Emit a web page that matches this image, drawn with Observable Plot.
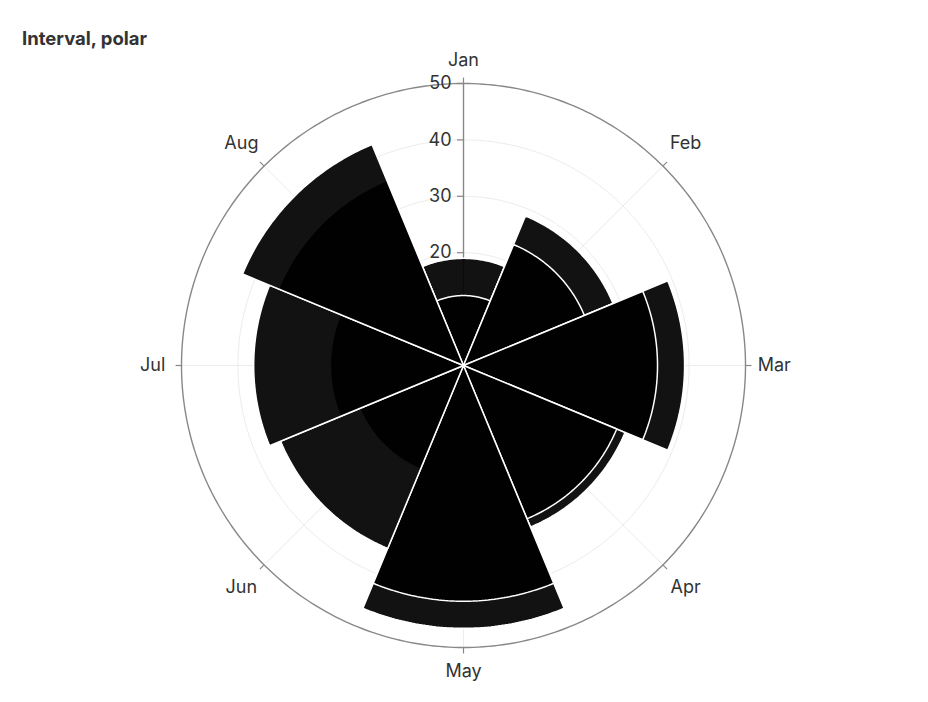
<!DOCTYPE html>
<html>
<head>
<meta charset="utf-8">
<script src="https://cdn.jsdelivr.net/npm/d3@7"></script>
<script src="https://cdn.jsdelivr.net/npm/@observablehq/plot@0.6"></script>
<style>
  body { margin: 0; background: #fff; font-family: Inter, "Liberation Sans", sans-serif; }
  #wrap { position: relative; width: 928px; height: 702px; }
  #title { position: absolute; left: 22px; top: 27px; font-size: 18.5px; font-weight: 700; color: #333; }
  #chart { position: absolute; left: 0; top: 0; }
</style>
</head>
<body>
<div id="wrap">
  <div id="chart"></div>
  <div id="title">Interval, polar</div>
</div>
<script>
// ---- data ----
const months = ["Jan", "Feb", "Mar", "Apr", "May", "Jun", "Jul", "Aug"];
const seriesA = [19.0, 28.7, 39.2, 31.0, 46.6, 19.9, 23.6, 35.5]; // drawn first
const seriesB = [12.4, 23.2, 34.4, 29.4, 41.8, 35.1, 37.2, 42.4]; // drawn on top
const radialTicks = [20, 30, 40, 50];
const rMax = 50;

// ---- polar helpers ----
const step = 360 / months.length;
const rad = (deg) => (deg * Math.PI) / 180;
const px = (r, deg) => r * Math.sin(rad(deg));
const py = (r, deg) => r * Math.cos(rad(deg));
const N = 60;

function wedges(values, series) {
  const pts = [];
  values.forEach((v, i) => {
    const a0 = i * step - step / 2, a1 = i * step + step / 2;
    const key = series + i;
    pts.push({ key, x: 0, y: 0 });
    for (let k = 0; k <= N; k++) {
      const a = a0 + ((a1 - a0) * k) / N;
      pts.push({ key, x: px(v, a), y: py(v, a) });
    }
    pts.push({ key, x: 0, y: 0 });
  });
  return pts;
}

function circles(values) {
  const pts = [];
  values.forEach((v) => {
    for (let k = 0; k <= 360; k++) pts.push({ key: v, x: px(v, k), y: py(v, k) });
  });
  return pts;
}

const gridCircles = circles(radialTicks.filter((t) => t < rMax));
const outerCircle = circles([rMax]);
// label offset: top/bottom, sides, diagonals
const labelR = (i) => (i % 4 === 0 ? 54.2 : i % 2 === 0 ? 55.1 : 55.7);

const chart = Plot.plot({
  width: 928,
  height: 702,
  marginLeft: 181,
  marginRight: 183,
  marginTop: 83,
  marginBottom: 55,
  x: { domain: [-rMax, rMax], axis: null },
  y: { domain: [-rMax, rMax], axis: null },
  style: { fontFamily: "Inter, 'Liberation Sans', sans-serif", fontSize: "18px", background: "white", overflow: "visible" },
  marks: [
    Plot.line(gridCircles, { x: "x", y: "y", z: "key", stroke: "#ececec", strokeWidth: 1 }),
    Plot.link(months, {
      x1: 0, y1: 0,
      x2: (d, i) => px(rMax, i * step), y2: (d, i) => py(rMax, i * step),
      stroke: "#ececec", strokeWidth: 1
    }),
    Plot.line(outerCircle, { x: "x", y: "y", z: "key", stroke: "#888", strokeWidth: 1.4 }),
    Plot.link(months, {
      x1: (d, i) => px(rMax, i * step), y1: (d, i) => py(rMax, i * step),
      x2: (d, i) => px(rMax + 1.05, i * step), y2: (d, i) => py(rMax + 1.05, i * step),
      stroke: "#888", strokeWidth: 1.2
    }),
    Plot.ruleX([0], { y1: 0, y2: rMax, stroke: "#888", strokeWidth: 1.4 }),
    Plot.ruleY(radialTicks, { y: (d) => d, x1: 0, x2: 0, insetLeft: -6, stroke: "#888", strokeWidth: 1.2 }),
    Plot.text(radialTicks, { x: 0, y: (d) => d, text: (d) => String(d), textAnchor: "end", dx: -12, fill: "#333", fontSize: 18 }),
    Plot.line(wedges(seriesA, "A"), { x: "x", y: "y", z: "key", fill: "black", fillOpacity: 0.93, stroke: "white", strokeWidth: 1.5, strokeLinejoin: "miter" }),
    Plot.line(wedges(seriesB, "B"), { x: "x", y: "y", z: "key", fill: "black", fillOpacity: 0.93, stroke: "white", strokeWidth: 1.5, strokeLinejoin: "miter" }),
    Plot.text(months, {
      x: (d, i) => px(labelR(i), i * step), y: (d, i) => py(labelR(i), i * step),
      text: (d) => d, fill: "#333", fontSize: 18
    })
  ]
});
document.getElementById("chart").appendChild(chart);
</script>
</body>
</html>
